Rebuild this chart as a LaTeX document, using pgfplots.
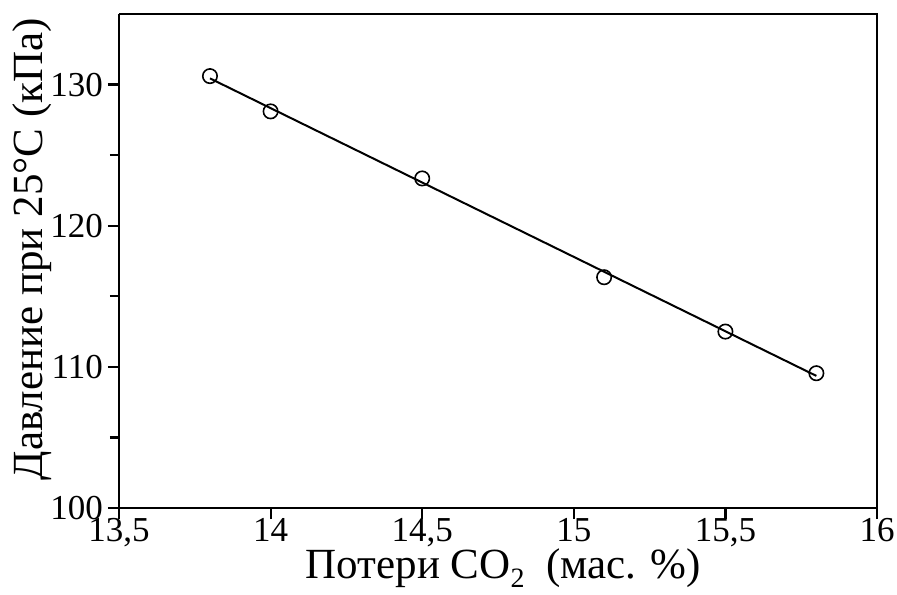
\documentclass[border=0pt]{standalone}
\usepackage{fontspec}
\setmainfont{Liberation Serif}
\usepackage{pgfplots}
\pgfplotsset{compat=1.18}
\begin{document}
\begin{tikzpicture}
\useasboundingbox (-59.5pt,-43pt) rectangle (389pt,254pt);
\begin{axis}[
  at={(0,0)}, anchor=south west,
  scale only axis,
  width=379pt, height=247pt,
  xmin=13.5, xmax=16, ymin=100, ymax=135,
  xtick={13.5,14,14.5,15,15.5,16},
  ytick={100,110,120,130},
  minor y tick num=1,
  axis x line*=bottom, axis y line*=left,
  axis line style={line width=1.2pt},
  tick style={line width=1.1pt, black},
  tick align=outside,
  major tick length=5.5pt,
  minor tick length=4.5pt,
  /pgf/number format/assume math mode=true,
  /pgf/number format/use comma,
  /pgf/number format/1000 sep={},
  ticklabel style={font=\fontsize{17.5}{19}\selectfont},
  xticklabel style={yshift=4pt},
  yticklabel style={xshift=1pt},
  xlabel={Потери CO\raisebox{-0.5ex}{\fontsize{14}{14}\selectfont 2}\ \ (мас. \%)},
  ylabel={Давление при 25°C (кПа)},
  label style={font=\fontsize{21.5}{24}\selectfont},
  xlabel style={at={(axis description cs:0.507,0)}, anchor=base, yshift=-35pt},
  ylabel style={at={(axis description cs:-0.1003,0.524)}, anchor=base},
  clip=false,
]
\addplot[black, line width=1pt, forget plot] coordinates {(13.8,130.44) (15.8,109.36)};
\addplot[only marks, mark=o, mark size=3.6pt, mark options={line width=0.8pt, black, fill=white}] coordinates {
(13.8,130.6) (14.0,128.1) (14.5,123.35) (15.1,116.35) (15.5,112.5) (15.8,109.55)};
\draw[line width=1.2pt] (rel axis cs:0,1) -- (rel axis cs:1,1) -- (rel axis cs:1,0);
\end{axis}
\end{tikzpicture}
\end{document}
